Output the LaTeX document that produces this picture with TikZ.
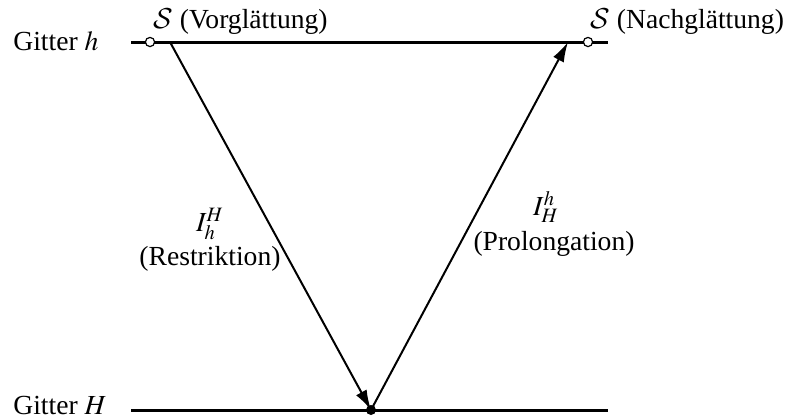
\documentclass[tikz,border=0pt]{standalone}
\usepackage{mathptmx}
\usepackage{fontspec}
\setmainfont{Liberation Serif}
\DeclareMathAlphabet{\mathcalcm}{OMS}{cmsy}{m}{n}
\usetikzlibrary{arrows.meta}
\tikzset{
  grid/.style={line width=1.5pt},
  conn/.style={line width=1pt,-{Latex[length=10pt,width=6pt]}},
  lbl/.style={inner sep=0pt,font=\fontsize{13.8}{16}\selectfont},
  opencirc/.style={circle,draw,line width=0.6pt,fill=white,minimum size=4.6pt,inner sep=0pt},
  dotc/.style={circle,fill=black,minimum size=5pt,inner sep=0pt}
}
\begin{document}
\begin{tikzpicture}[x=0.5pt,y=-0.5pt]
\useasboundingbox (0,0) rectangle (794,419);
% grid lines
\coordinate (hL) at (131,42);
\coordinate (hR) at (608,42);
\coordinate (HL) at (131,410);
\coordinate (HR) at (608,410);
\draw[grid] (hL) -- (hR);
\draw[grid] (HL) -- (HR);
\coordinate (pre) at (170,42);
\coordinate (post) at (568,42);
\node[dotc] (bot) at (371,410) {};
\node[opencirc] (s1) at (150,42) {};
\node[opencirc] (s2) at (588,42) {};
\draw[conn] (pre) -- (bot.center);
\draw[conn] (bot.center) -- (post);
% labels
\node[lbl,anchor=base west] (gh) at (13,50) {Gitter $h$};
\node[lbl,anchor=base west] (gH) at (13,414) {Gitter $H$};
\node[lbl,anchor=base west] (vg) at (153,28) {$\mathcalcm{S}$ (Vorglättung)};
\node[lbl,anchor=base west] (ng) at (590,28) {$\mathcalcm{S}$ (Nachglättung)};
\node[lbl] (ir) at (210,224) {$I_h^H$};
\node[lbl] (rt) at (210,259) {(Restriktion)};
\node[lbl] (ip) at (546,207) {$I_H^h$};
\node[lbl] (pr) at (554,244) {(Prolongation)};
\end{tikzpicture}
\end{document}
